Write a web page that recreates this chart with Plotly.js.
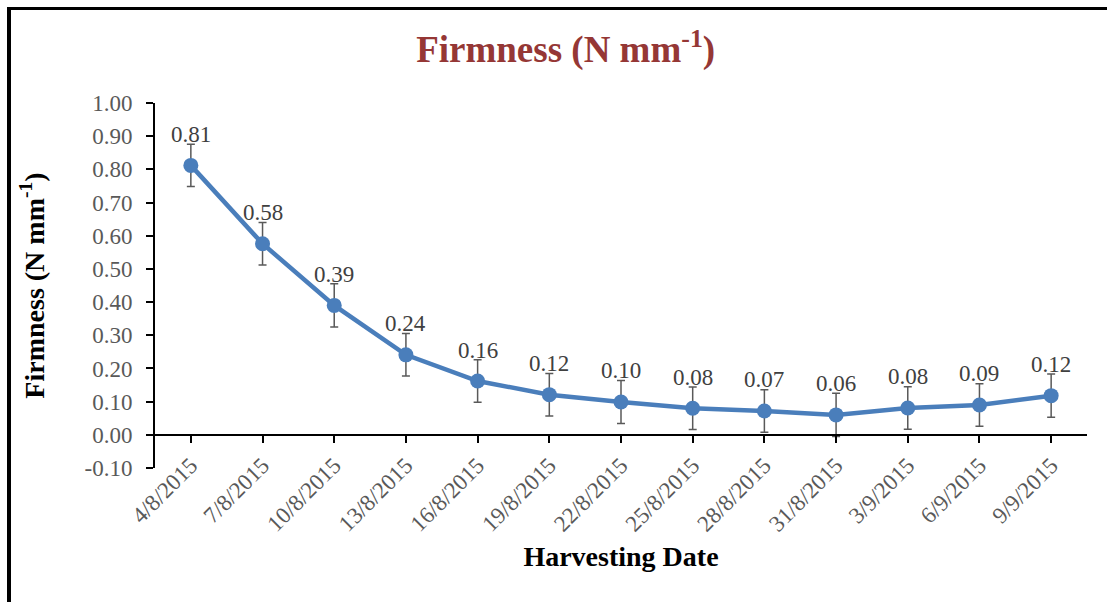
<!DOCTYPE html>
<html>
<head>
<meta charset="utf-8">
<script src="https://cdn.plot.ly/plotly-3.0.1.min.js"></script>
<style>
html,body{margin:0;padding:0;background:#fff;}
#chart{position:absolute;left:0;top:0;width:1107px;height:602px;}
#bl{position:absolute;left:7px;top:7px;width:4px;height:600px;background:#000;pointer-events:none;}
#bt{position:absolute;left:7px;top:7px;width:1100px;height:3px;background:#000;pointer-events:none;}
</style>
</head>
<body>
<div id="chart"></div>
<div id="bl"></div>
<div id="bt"></div>
<script>
const dates = ["4/8/2015","7/8/2015","10/8/2015","13/8/2015","16/8/2015","19/8/2015","22/8/2015","25/8/2015","28/8/2015","31/8/2015","3/9/2015","6/9/2015","9/9/2015"];
const firmness = [0.812, 0.576, 0.390, 0.241, 0.162, 0.121, 0.099, 0.080, 0.072, 0.060, 0.081, 0.090, 0.118];
const errors = [0.064, 0.064, 0.065, 0.064, 0.064, 0.064, 0.065, 0.064, 0.064, 0.065, 0.064, 0.064, 0.065];
const labels = ["0.81","0.58","0.39","0.24","0.16","0.12","0.10","0.08","0.07","0.06","0.08","0.09","0.12"];
const yTicks = [-0.1,0,0.1,0.2,0.3,0.4,0.5,0.6,0.7,0.8,0.9,1.0];
const yTickText = ["-0.10","0.00","0.10","0.20","0.30","0.40","0.50","0.60","0.70","0.80","0.90","1.00"];

const serif = "Liberation Serif, Times New Roman, serif";
const zeroPos = 0.1/1.1;

const trace = {
  x: dates, y: firmness, type: "scatter", mode: "lines+markers",
  line: {color: "#4a7ebb", width: 4.5},
  marker: {color: "#4a7ebb", size: 15},
  error_y: {type: "data", array: errors, visible: true, color: "#595959", thickness: 1.5, width: 4},
  hoverinfo: "x+y", cliponaxis: false
};

const endTick = [dates.length - 0.5];

const annotations = dates.map((d,i)=>({
  x: d, y: firmness[i], xref: "x", yref: "y", text: labels[i], showarrow: false,
  yshift: 31, yanchor: "middle", font: {family: serif, size: 23, color: "#404040"}
}));

const layout = {
  width: 1107, height: 602,
  margin: {l: 155, r: 20, t: 103, b: 134},
  paper_bgcolor: "#fff", plot_bgcolor: "#fff",
  showlegend: false,
  title: {text: "<b>Firmness (N mm<sup>-1</sup>)</b>", font: {family: serif, size: 37, color: "#953735"}, x: 0.511, xanchor: "center", y: 0.918, yanchor: "middle"},
  xaxis: {
    type: "category", range: [-0.5, 12.5], anchor: "free", position: zeroPos,
    showline: true, linecolor: "#000", linewidth: 2, showgrid: false, zeroline: false,
    ticks: "outside", ticklen: 7, tickwidth: 2, tickcolor: "#000",
    tickangle: -45, tickfont: {family: serif, size: 23, color: "#595959"},
    title: {text: "<b>Harvesting Date</b>", font: {family: serif, size: 28, color: "#000"}, standoff: 10},
    automargin: false
  },
  xaxis2: {
    overlaying: "x", anchor: "free", position: zeroPos, range: [-0.5, 12.5],
    tickmode: "array", tickvals: endTick, showticklabels: false,
    ticks: "outside", ticklen: 7, tickwidth: 2, tickcolor: "#000",
    showline: false, showgrid: false, zeroline: false
  },
  yaxis: {
    range: [-0.1, 1.0], tickmode: "array", tickvals: yTicks, ticktext: yTickText,
    ticks: "outside", ticklen: 7, tickwidth: 2, tickcolor: "#000", ticklabelstandoff: 9,
    showline: true, linecolor: "#000", linewidth: 2, showgrid: false, zeroline: false,
    tickfont: {family: serif, size: 23, color: "#595959"},
    title: {text: "<b>Firmness (N mm<sup>-1</sup>)</b>", font: {family: serif, size: 28, color: "#000"}, standoff: 32},
    automargin: false
  },
  annotations: annotations
};

Plotly.newPlot("chart", [trace], layout, {displayModeBar: false, staticPlot: true});
</script>
</body>
</html>
